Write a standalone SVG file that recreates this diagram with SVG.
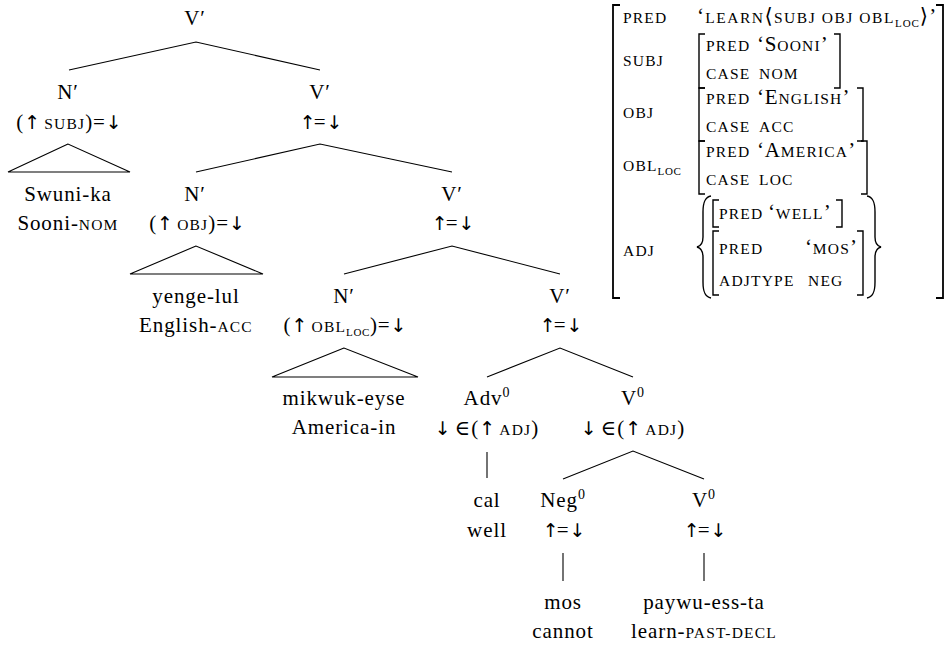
<svg xmlns="http://www.w3.org/2000/svg" width="951" height="646" viewBox="0 0 951 646">
  <style>
    .t { font-family: "Liberation Serif", "DejaVu Serif", serif; font-size: 21px; fill: #000; text-anchor: middle; letter-spacing: 0.9px; }
    .a { font-family: "Liberation Serif", "DejaVu Serif", serif; font-size: 21px; fill: #000; letter-spacing: 0.8px; }
    .sc { font-size: 15.5px; letter-spacing: 1.2px; }
    .sub { font-size: 11px; letter-spacing: 0.6px; }
    .sup { font-size: 14px; }
    .ar { font-family: "DejaVu Sans", sans-serif; font-size: 19px; letter-spacing: -2px; fill: #000; }
    .ln { stroke: #000; stroke-width: 1.1; fill: none; }
    .br { stroke: #000; stroke-width: 1.8; fill: none; }
    .ib { stroke: #000; stroke-width: 1.4; fill: none; }
  </style>
  <rect width="951" height="646" fill="#fff"/>

  <!-- tree edges and triangles -->
  <g id="connectors">
    <polyline class="ln" points="69,70 196,42 320,70"/>
    <polyline class="ln" points="196,172 320,144 452,172"/>
    <polyline class="ln" points="344,274 452,246 560,274"/>
    <polyline class="ln" points="487,377 560,348 633,377"/>
    <polyline class="ln" points="563,479 633,451 704,479"/>
    <line class="ln" x1="487" y1="452" x2="487" y2="478"/>
    <line class="ln" x1="563" y1="553" x2="563" y2="581"/>
    <line class="ln" x1="704" y1="553" x2="704" y2="581"/>
    <polygon class="ln" points="68,144 8,172 130,172"/>
    <polygon class="ln" points="196,246 130,274 263,274"/>
    <polygon class="ln" points="344,348 272,377 418,377"/>
  </g>

  <!-- tree nodes -->
  <g id="root">
    <text class="t" x="195" y="25">V′</text>
  </g>
  <g id="n-subj">
    <text class="t" x="68" y="99">N′</text>
    <text class="t" x="68" y="129">(<tspan class="ar">↑</tspan> <tspan class="sc">SUBJ</tspan>)=<tspan class="ar">↓</tspan></text>
  </g>
  <g id="w-subj">
    <text class="t" x="68" y="201">Swuni-ka</text>
    <text class="t" x="68" y="230">Sooni-<tspan class="sc">NOM</tspan></text>
  </g>
  <g id="v1">
    <text class="t" x="320" y="99">V′</text>
    <text class="t" x="320" y="129"><tspan class="ar">↑</tspan>=<tspan class="ar">↓</tspan></text>
  </g>
  <g id="n-obj">
    <text class="t" x="195" y="201">N′</text>
    <text class="t" x="196" y="230">(<tspan class="ar">↑</tspan> <tspan class="sc">OBJ</tspan>)=<tspan class="ar">↓</tspan></text>
  </g>
  <g id="w-obj">
    <text class="t" x="196" y="303">yenge-lul</text>
    <text class="t" x="196" y="332">English-<tspan class="sc">ACC</tspan></text>
  </g>
  <g id="v2">
    <text class="t" x="452" y="201">V′</text>
    <text class="t" x="452" y="230"><tspan class="ar">↑</tspan>=<tspan class="ar">↓</tspan></text>
  </g>
  <g id="n-obl">
    <text class="t" x="344" y="303">N′</text>
    <text class="t" x="344" y="332">(<tspan class="ar">↑</tspan> <tspan class="sc">OBL</tspan><tspan class="sub" dy="4">LOC</tspan><tspan dy="-4">)=</tspan><tspan class="ar">↓</tspan></text>
  </g>
  <g id="w-obl">
    <text class="t" x="344" y="405">mikwuk-eyse</text>
    <text class="t" x="344" y="434">America-in</text>
  </g>
  <g id="v3">
    <text class="t" x="560" y="303">V′</text>
    <text class="t" x="560" y="332"><tspan class="ar">↑</tspan>=<tspan class="ar">↓</tspan></text>
  </g>
  <g id="adv">
    <text class="t" x="487" y="405">Adv<tspan class="sup" dy="-8">0</tspan></text>
    <text class="t" x="487" y="435"><tspan class="ar">↓</tspan> ∈(<tspan class="ar">↑</tspan> <tspan class="sc">ADJ</tspan>)</text>
  </g>
  <g id="w-adv">
    <text class="t" x="487" y="507">cal</text>
    <text class="t" x="487" y="537">well</text>
  </g>
  <g id="v0-outer">
    <text class="t" x="633" y="405">V<tspan class="sup" dy="-8">0</tspan></text>
    <text class="t" x="633" y="435"><tspan class="ar">↓</tspan> ∈(<tspan class="ar">↑</tspan> <tspan class="sc">ADJ</tspan>)</text>
  </g>
  <g id="neg">
    <text class="t" x="563" y="507">Neg<tspan class="sup" dy="-8">0</tspan></text>
    <text class="t" x="563" y="537"><tspan class="ar">↑</tspan>=<tspan class="ar">↓</tspan></text>
  </g>
  <g id="w-neg">
    <text class="t" x="563" y="609">mos</text>
    <text class="t" x="563" y="638">cannot</text>
  </g>
  <g id="v0-inner">
    <text class="t" x="704" y="507">V<tspan class="sup" dy="-8">0</tspan></text>
    <text class="t" x="704" y="537"><tspan class="ar">↑</tspan>=<tspan class="ar">↓</tspan></text>
  </g>
  <g id="w-verb">
    <text class="t" x="704" y="609">paywu-ess-ta</text>
    <text class="t" x="704" y="638">learn-<tspan class="sc">PAST-DECL</tspan></text>
  </g>

  <!-- f-structure -->
  <g id="fstructure">
    <path class="br" d="M620,5 H613 V298 H620"/>
    <path class="br" d="M936,5 H943 V298 H936"/>

    <text class="a" x="623" y="23"><tspan class="sc">PRED</tspan></text>
    <text class="a" x="697" y="23" textLength="240" lengthAdjust="spacing">‘<tspan class="sc">LEARN</tspan>⟨<tspan class="sc">SUBJ OBJ OBL</tspan><tspan class="sub" dy="4">LOC</tspan><tspan dy="-4">⟩’</tspan></text>

    <text class="a" x="623" y="66"><tspan class="sc">SUBJ</tspan></text>
    <path class="ib" d="M705,34 H699 V88 H705"/>
    <path class="ib" d="M834,34 H840 V88 H834"/>
    <text class="a" x="706" y="51"><tspan class="sc">PRED</tspan></text>
    <text class="a" x="757" y="51">‘S<tspan class="sc">OONI</tspan>’</text>
    <text class="a" x="706" y="79"><tspan class="sc">CASE</tspan></text>
    <text class="a" x="759" y="79"><tspan class="sc">NOM</tspan></text>

    <text class="a" x="623" y="118"><tspan class="sc">OBJ</tspan></text>
    <path class="ib" d="M705,88 H699 V141 H705"/>
    <path class="ib" d="M857,88 H863 V141 H857"/>
    <text class="a" x="706" y="104"><tspan class="sc">PRED</tspan></text>
    <text class="a" x="757" y="104">‘E<tspan class="sc">NGLISH</tspan>’</text>
    <text class="a" x="706" y="132"><tspan class="sc">CASE</tspan></text>
    <text class="a" x="759" y="132"><tspan class="sc">ACC</tspan></text>

    <text class="a" x="623" y="171"><tspan class="sc">OBL</tspan><tspan class="sub" dy="4">LOC</tspan></text>
    <path class="ib" d="M705,141 H699 V194 H705"/>
    <path class="ib" d="M861,141 H867 V194 H861"/>
    <text class="a" x="706" y="157"><tspan class="sc">PRED</tspan></text>
    <text class="a" x="757" y="157">‘A<tspan class="sc">MERICA</tspan>’</text>
    <text class="a" x="706" y="185"><tspan class="sc">CASE</tspan></text>
    <text class="a" x="759" y="185"><tspan class="sc">LOC</tspan></text>

    <text class="a" x="623" y="256"><tspan class="sc">ADJ</tspan></text>
    <path class="ib" d="M711,196 C705,197 703,202 703,212 L703,237 C703,243 701,246 697,247 C701,248 703,251 703,257 L703,282 C703,292 705,297 711,298"/>
    <path class="ib" d="M867,196 C873,197 875,202 875,212 L875,237 C875,243 877,246 881,247 C877,248 875,251 875,257 L875,282 C875,292 873,297 867,298"/>
    <path class="ib" d="M719,200 H713 V227 H719"/>
    <path class="ib" d="M836,200 H842 V227 H836"/>
    <text class="a" x="719" y="219"><tspan class="sc">PRED</tspan></text>
    <text class="a" x="768" y="219">‘<tspan class="sc">WELL</tspan>’</text>
    <path class="ib" d="M719,231 H713 V295 H719"/>
    <path class="ib" d="M857,231 H863 V295 H857"/>
    <text class="a" x="719" y="254"><tspan class="sc">PRED</tspan></text>
    <text class="a" x="805" y="254">‘<tspan class="sc">MOS</tspan>’</text>
    <text class="a" x="719" y="286"><tspan class="sc">ADJTYPE</tspan></text>
    <text class="a" x="808" y="286"><tspan class="sc">NEG</tspan></text>
  </g>
</svg>
